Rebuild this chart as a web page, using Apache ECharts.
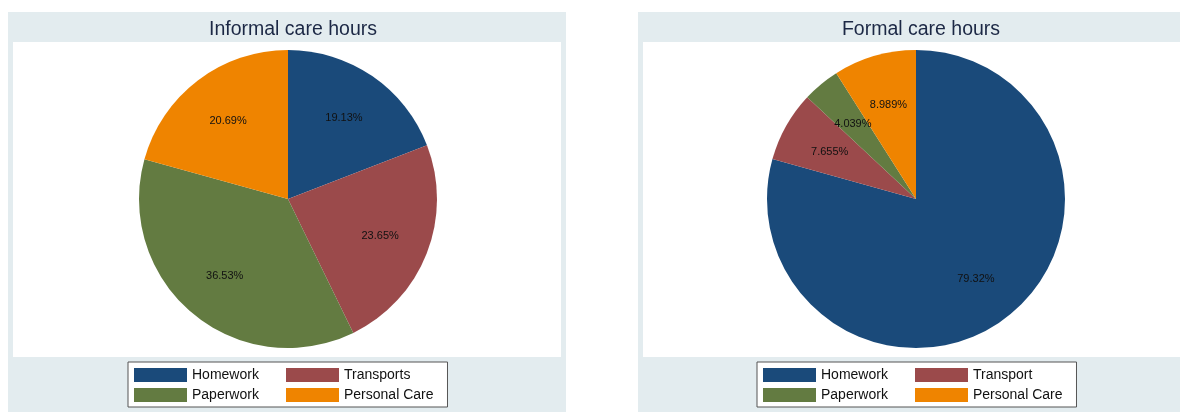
<!DOCTYPE html>
<html>
<head>
<meta charset="utf-8">
<script src="https://cdn.jsdelivr.net/npm/echarts@6/dist/echarts.min.js"></script>
<style>
html,body{margin:0;padding:0;background:#fff;}
#chart{width:1180px;height:412px;}
</style>
</head>
<body>
<div id="chart"></div>
<script>
const informalCategories = ['Homework', 'Transports', 'Paperwork', 'Personal Care'];
const informalValues = [19.13, 23.65, 36.53, 20.69];
const formalCategories = ['Homework', 'Transport', 'Paperwork', 'Personal Care'];
const formalValues = [79.32, 7.655, 4.039, 8.989];
const titles = ['Informal care hours', 'Formal care hours'];
const colors = ['#1a4a7a', '#9b4a4b', '#637b41', '#ef8400'];

const FONT = '"Liberation Sans", Arial, Helvetica, sans-serif';
const chart = echarts.init(document.getElementById('chart'), null, {renderer: 'canvas'});

function mkData(cats, vals) {
  return cats.map((c, i) => ({name: c, value: vals[i], itemStyle: {color: colors[i]}}));
}

const panels = [
  {cats: informalCategories, vals: informalValues, cx: 288, bgX: 8, bgW: 558, legendLeft: 128},
  {cats: formalCategories, vals: formalValues, cx: 916, bgX: 638, bgW: 560, legendLeft: 757}
];

const graphics = [];
const series = [];
const legends = [];
const titleOpts = [];

panels.forEach((p, k) => {
  graphics.push({type: 'rect', z: -10, shape: {x: p.bgX, y: 12, width: p.bgW, height: 400}, style: {fill: '#e3ecef'}, silent: true});
  graphics.push({type: 'rect', z: -9, shape: {x: p.bgX + 5, y: 42, width: p.bgW - 10, height: 315}, style: {fill: '#ffffff'}, silent: true});
  titleOpts.push({
    text: titles[k], left: p.cx, top: 15, textAlign: 'center',
    textStyle: {fontFamily: FONT, fontSize: 19.5, fontWeight: 'normal', color: '#1c2845'}
  });
  const data = mkData(p.cats, p.vals);
  series.push({
    type: 'pie', center: [p.cx, 199], radius: [0, 149], startAngle: 90, clockwise: true,
    data: data, label: {show: false}, labelLine: {show: false},
    itemStyle: {borderWidth: 0}, emphasis: {disabled: true}
  });
  series.push({
    type: 'pie', center: [p.cx, 199], radius: [46, 146], startAngle: 90, clockwise: true,
    silent: true, legendHoverLink: false,
    data: p.cats.map((c, i) => ({name: c, value: p.vals[i]})),
    itemStyle: {color: 'rgba(0,0,0,0)', borderWidth: 0},
    label: {show: true, position: 'inside', formatter: (d) => d.value + '%',
      fontFamily: FONT, fontSize: 11, color: '#111', offset: [0, 1]},
    labelLine: {show: false}, emphasis: {disabled: true}
  });
  legends.push({
    data: p.cats, left: p.legendLeft, top: 362, orient: 'horizontal',
    width: 300, itemWidth: 53, itemHeight: 14, itemGap: 6, icon: 'rect',
    padding: [6, 14, 5, 6], backgroundColor: '#fff', borderColor: '#555', borderWidth: 1,
    selectedMode: false,
    textStyle: {fontFamily: FONT, fontSize: 14, color: '#111', width: 88, lineHeight: 14}
  });
});

chart.setOption({
  animation: false,
  title: titleOpts,
  legend: legends,
  graphic: graphics,
  series: series
});
</script>
</body>
</html>
